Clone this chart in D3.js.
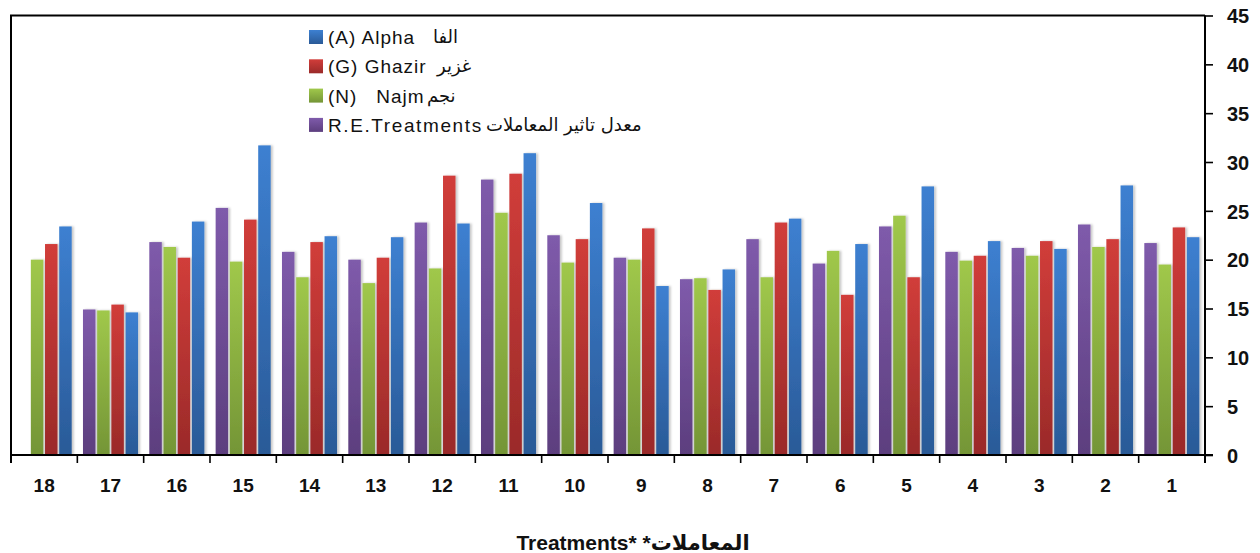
<!DOCTYPE html>
<html>
<head>
<meta charset="utf-8">
<script src="https://cdn.jsdelivr.net/npm/d3@7"></script>
<style>
  html, body { margin: 0; padding: 0; background: #fff; }
  svg { display: block; }
  .value-axis text { font-family: 'Liberation Sans', Arial, sans-serif; font-weight: 700; font-size: 20px; fill: #111; }
</style>
</head>
<body>
<svg id="chart" width="1260" height="553"></svg>
<script>
// Treatments, drawn right-to-left (18 on the left, 1 on the right)
const categories = ["18","17","16","15","14","13","12","11","10","9","8","7","6","5","4","3","2","1"];

// Series values per treatment, in the same order as categories
const reTreatments = [null, 14.9, 21.8, 25.3, 20.8, 20.0, 23.8, 28.2, 22.5, 20.2, 18.0, 22.1, 19.6, 23.4, 20.8, 21.2, 23.6, 21.7];
const najm         = [20.0, 14.8, 21.3, 19.8, 18.2, 17.6, 19.1, 24.8, 19.7, 20.0, 18.1, 18.2, 20.9, 24.5, 19.9, 20.4, 21.3, 19.5];
const ghazir       = [21.6, 15.4, 20.2, 24.1, 21.8, 20.2, 28.6, 28.8, 22.1, 23.2, 16.9, 23.8, 16.4, 18.2, 20.4, 21.9, 22.1, 23.3];
const alpha        = [23.4, 14.6, 23.9, 31.7, 22.4, 22.3, 23.7, 30.9, 25.8, 17.3, 19.0, 24.2, 21.6, 27.5, 21.9, 21.1, 27.6, 22.3];

const yTicks = [0, 5, 10, 15, 20, 25, 30, 35, 40, 45];

// Series definitions (bar order within a group: purple, green, red, blue)
const series = [
  { key: "re",     values: reTreatments, top: "#7f5bab", bottom: "#5c3e7e" },
  { key: "najm",   values: najm,         top: "#a0c84b", bottom: "#749536" },
  { key: "ghazir", values: ghazir,       top: "#d13d3a", bottom: "#9a2a29" },
  { key: "alpha",  values: alpha,        top: "#3d80d1", bottom: "#2a5a97" }
];

// Legend rows (top to bottom)
const legendRows = [
  { en: "(A) Alpha",      ar: "الفا",                color: "alpha" },
  { en: "(G) Ghazir",     ar: "غزير",                color: "ghazir" },
  { en: "(N)   Najm",     ar: "نجم",                 color: "najm" },
  { en: "R.E.Treatments", ar: "معدل تاثير المعاملات", color: "re" }
];
const legendArX = [433, 437, 427, 486];
const legendEnSpacing = [1, 1, 1, 1.6];

const svg = d3.select("#chart");
const plotLeft = 11, plotRight = 1205, plotTop = 15.5, plotBottom = 455;

const x0 = d3.scaleBand().domain(categories).range([plotLeft, plotRight])
  .paddingInner(0.17).paddingOuter(0.085);
const x1 = d3.scaleBand().domain(series.map(s => s.key)).range([0, x0.bandwidth()])
  .paddingInner(0.12);
const y = d3.scaleLinear().domain([0, 45]).range([plotBottom, plotTop]);

const defs = svg.append("defs");
series.forEach(s => {
  const g = defs.append("linearGradient").attr("id", "grad-" + s.key)
    .attr("x1", 0).attr("y1", 0).attr("x2", 0).attr("y2", 1);
  g.append("stop").attr("offset", "0%").attr("stop-color", s.top);
  g.append("stop").attr("offset", "100%").attr("stop-color", s.bottom);
});
const shadow = defs.append("filter").attr("id", "barShadow")
  .attr("x", "-30%").attr("y", "-5%").attr("width", "160%").attr("height", "110%");
shadow.append("feDropShadow").attr("dx", 2).attr("dy", 0).attr("stdDeviation", 1.2)
  .attr("flood-color", "#000").attr("flood-opacity", 0.22);

// Bars
const groups = svg.append("g").selectAll("g").data(categories).join("g")
  .attr("transform", d => `translate(${x0(d)},0)`);
groups.selectAll("rect")
  .data((d, i) => series.map(s => ({ key: s.key, v: s.values[i] })).filter(e => e.v != null))
  .join("rect")
  .attr("x", d => x1(d.key))
  .attr("width", x1.bandwidth())
  .attr("y", d => y(d.v))
  .attr("height", d => y(0) - y(d.v))
  .attr("fill", d => `url(#grad-${d.key})`)
  .attr("filter", "url(#barShadow)");

// Plot frame: top and left border
svg.append("path")
  .attr("d", `M${plotLeft},${plotBottom + 8}V${plotTop}H${plotRight}`)
  .attr("fill", "none").attr("stroke", "#000").attr("stroke-width", 2);

// Right value axis
const yAxis = svg.append("g").attr("class", "value-axis")
  .attr("transform", `translate(${plotRight},0)`)
  .call(d3.axisRight(y).tickValues(yTicks).tickSize(8).tickPadding(14));
yAxis.select(".domain").attr("stroke-width", 2).attr("d", `M0,${plotTop}V${plotBottom + 8}`);
yAxis.selectAll(".tick line").attr("stroke-width", 1.6);
yAxis.selectAll(".tick text").attr("dy", "0.36em");

// Bottom category axis: ticks at group boundaries, labels at centers
const boundaries = categories.map(c => x0(c) - x0.step() * x0.paddingInner() / 2).concat([plotRight]);
const xAxis = svg.append("g");
xAxis.append("line").attr("x1", plotLeft).attr("x2", plotRight + 8)
  .attr("y1", plotBottom).attr("y2", plotBottom).attr("stroke", "#000").attr("stroke-width", 2);
xAxis.selectAll("line.tk").data(boundaries).join("line").attr("class", "tk")
  .attr("x1", d => d).attr("x2", d => d).attr("y1", plotBottom).attr("y2", plotBottom + 8)
  .attr("stroke", "#000").attr("stroke-width", 1.6);
xAxis.selectAll("text").data(categories).join("text")
  .attr("x", d => x0(d) + x0.bandwidth() / 2)
  .attr("y", 492)
  .attr("text-anchor", "middle")
  .style("font-family", "'Liberation Sans', Arial, sans-serif")
  .style("font-weight", "bold").style("font-size", "19px").style("fill", "#111")
  .text(d => d);

// Axis title
svg.append("text")
  .attr("x", 633).attr("y", 550)
  .attr("text-anchor", "middle").attr("direction", "ltr")
  .style("font-family", "'Liberation Sans', 'DejaVu Sans', sans-serif")
  .style("font-weight", "bold").style("font-size", "21px").style("fill", "#111")
  .text("Treatments* *المعاملات");

// Legend
const leg = svg.append("g");
legendRows.forEach((r, i) => {
  const cy = 37 + i * 29.3;
  leg.append("rect").attr("x", 309).attr("y", cy - 7).attr("width", 14).attr("height", 14)
    .attr("fill", `url(#grad-${r.color})`);
  leg.append("text").attr("x", 328).attr("y", cy + 7)
    .style("font-family", "'Liberation Sans', Arial, sans-serif")
    .style("font-size", "19px").style("letter-spacing", legendEnSpacing[i] + "px").style("fill", "#111")
    .style("white-space", "pre")
    .text(r.en);
  leg.append("text").attr("x", legendArX[i]).attr("y", cy + 6)
    .attr("direction", "ltr")
    .style("font-family", "'DejaVu Sans', sans-serif")
    .style("font-size", "18px").style("fill", "#111")
    .text(r.ar);
});
</script>
</body>
</html>
